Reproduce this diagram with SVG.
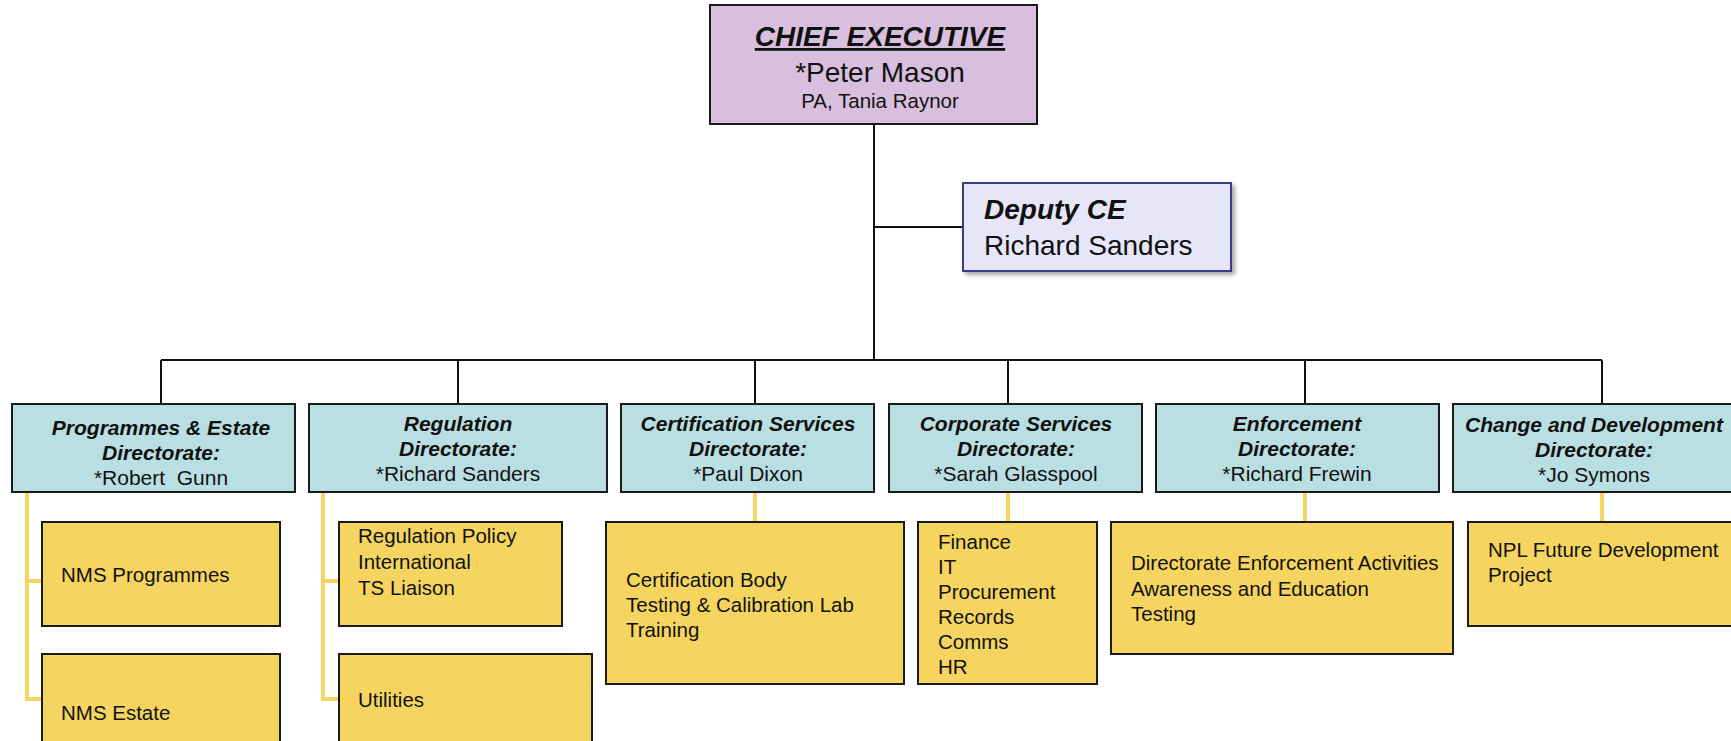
<svg xmlns="http://www.w3.org/2000/svg" width="1731" height="741" viewBox="0 0 1731 741">
<style>
text{font-family:"Liberation Sans",Arial,sans-serif;fill:#111}
.bi{font-weight:bold;font-style:italic}
.dir{fill:#BADFE3;stroke:#1a1a1a;stroke-width:2}
.sub{fill:#F5D55F;stroke:#1a1a1a;stroke-width:2}
.dt{font-size:21px;text-anchor:middle}
.st{font-size:20.5px}
.ln{stroke:#111;stroke-width:2;fill:none}
.yl{stroke:#F5D55F;stroke-width:4;fill:none}
</style>
<defs>
<filter id="sh" x="-10%" y="-10%" width="125%" height="130%">
<feDropShadow dx="3" dy="3" stdDeviation="2" flood-color="#000" flood-opacity="0.35"/>
</filter>
</defs>
<rect width="1731" height="741" fill="#fff"/>
<g id="connectors">
<path class="ln" d="M874 124V360M874 227H963M161 360H1602M161 360V404M458 360V404M755 360V404M1008 360V404M1305 360V404M1602 360V404"/>
<path class="yl" d="M27 492V699H42M27 581H42M323 492V699H339M323 581H339M755 492V522M1008 492V522M1305 492V522M1602 492V522"/>
</g>
<g id="ce">
<rect x="710" y="5" width="327" height="119" fill="#D9BFDE" stroke="#1a1a1a" stroke-width="2"/>
<text x="880" y="46" class="bi" font-size="28" text-anchor="middle" text-decoration="underline">CHIEF EXECUTIVE</text>
<text x="880" y="82" font-size="28" text-anchor="middle">*Peter Mason</text>
<text x="880" y="108" font-size="20.5" text-anchor="middle">PA, Tania Raynor</text>
</g>
<g id="deputy">
<rect x="963" y="183" width="268" height="88" fill="#E6E6F8" stroke="#3A3A8C" stroke-width="2" filter="url(#sh)"/>
<text x="984" y="219" class="bi" font-size="28">Deputy CE</text>
<text x="984" y="255" font-size="28">Richard Sanders</text>
</g>
<g id="dir-programmes">
<rect class="dir" x="12" y="404" width="283" height="88"/>
<text class="dt" x="161" y="435"><tspan class="bi">Programmes &amp; Estate</tspan><tspan class="bi" x="161" dy="25">Directorate:</tspan><tspan x="161" dy="25" xml:space="preserve">*Robert  Gunn</tspan></text>
</g>
<g id="dir-regulation">
<rect class="dir" x="309" y="404" width="298" height="88"/>
<text class="dt" x="458" y="431"><tspan class="bi">Regulation</tspan><tspan class="bi" x="458" dy="25">Directorate:</tspan><tspan x="458" dy="25">*Richard Sanders</tspan></text>
</g>
<g id="dir-certification">
<rect class="dir" x="621" y="404" width="253" height="88"/>
<text class="dt" x="748" y="431"><tspan class="bi">Certification Services</tspan><tspan class="bi" x="748" dy="25">Directorate:</tspan><tspan x="748" dy="25">*Paul Dixon</tspan></text>
</g>
<g id="dir-corporate">
<rect class="dir" x="889" y="404" width="253" height="88"/>
<text class="dt" x="1016" y="431"><tspan class="bi">Corporate Services</tspan><tspan class="bi" x="1016" dy="25">Directorate:</tspan><tspan x="1016" dy="25">*Sarah Glasspool</tspan></text>
</g>
<g id="dir-enforcement">
<rect class="dir" x="1156" y="404" width="283" height="88"/>
<text class="dt" x="1297" y="431"><tspan class="bi">Enforcement</tspan><tspan class="bi" x="1297" dy="25">Directorate:</tspan><tspan x="1297" dy="25">*Richard Frewin</tspan></text>
</g>
<g id="dir-change">
<rect class="dir" x="1453" y="404" width="285" height="88"/>
<text class="dt" x="1594" y="432"><tspan class="bi">Change and Development</tspan><tspan class="bi" x="1594" dy="25">Directorate:</tspan><tspan x="1594" dy="25">*Jo Symons</tspan></text>
</g>
<g id="nms-programmes">
<rect class="sub" x="42" y="522" width="238" height="104"/>
<text class="st" x="61" y="582">NMS Programmes</text>
</g>
<g id="nms-estate">
<rect class="sub" x="42" y="654" width="238" height="95"/>
<text class="st" x="61" y="720">NMS Estate</text>
</g>
<g id="regulation-policy">
<rect class="sub" x="339" y="522" width="223" height="104"/>
<text class="st" x="358" y="543"><tspan>Regulation Policy</tspan><tspan x="358" dy="26">International</tspan><tspan x="358" dy="26">TS Liaison</tspan></text>
</g>
<g id="utilities">
<rect class="sub" x="339" y="654" width="253" height="95"/>
<text class="st" x="358" y="707">Utilities</text>
</g>
<g id="certification-units">
<rect class="sub" x="606" y="522" width="298" height="162"/>
<text class="st" x="626" y="587"><tspan>Certification Body</tspan><tspan x="626" dy="25">Testing &amp; Calibration Lab</tspan><tspan x="626" dy="25">Training</tspan></text>
</g>
<g id="corporate-units">
<rect class="sub" x="918" y="522" width="179" height="162"/>
<text class="st" x="938" y="549"><tspan>Finance</tspan><tspan x="938" dy="25">IT</tspan><tspan x="938" dy="25">Procurement</tspan><tspan x="938" dy="25">Records</tspan><tspan x="938" dy="25">Comms</tspan><tspan x="938" dy="25">HR</tspan></text>
</g>
<g id="enforcement-units">
<rect class="sub" x="1111" y="522" width="342" height="132"/>
<text class="st" x="1131" y="570"><tspan>Directorate Enforcement Activities</tspan><tspan x="1131" dy="25.5">Awareness and Education</tspan><tspan x="1131" dy="25.5">Testing</tspan></text>
</g>
<g id="npl-project">
<rect class="sub" x="1468" y="522" width="270" height="104"/>
<text class="st" x="1488" y="557"><tspan>NPL Future Development</tspan><tspan x="1488" dy="25">Project</tspan></text>
</g>
</svg>
